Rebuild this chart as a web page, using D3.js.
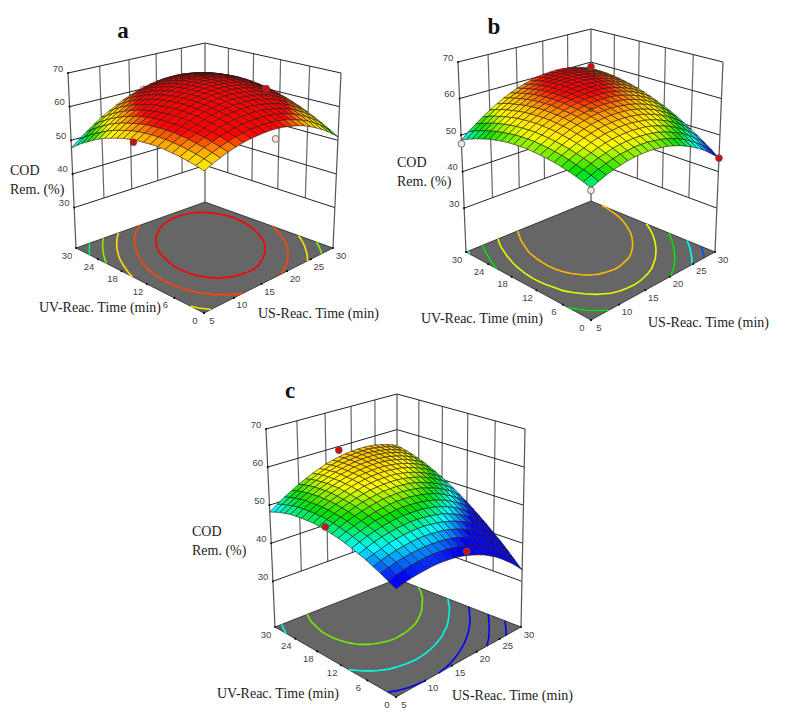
<!DOCTYPE html>
<html>
<head>
<meta charset="utf-8">
<script src="https://cdn.jsdelivr.net/npm/d3@7"></script>
<style>
  body { margin: 0; background: #fff; }
  .tick-label { font: 9.5px "Liberation Sans", sans-serif; fill: #444; text-anchor: middle; dominant-baseline: central; }
  .axis-title { font: 14px "Liberation Serif", serif; fill: #222; }
  .panel-letter { font: bold 23px "Liberation Serif", serif; fill: #111; text-anchor: middle; }
</style>
</head>
<body>
<svg id="chart" width="789" height="727"></svg>
<script>
const usTicks = [5, 10, 15, 20, 25, 30];
const uvTicks = [0, 6, 12, 18, 24, 30];
const codTicks = [30, 40, 50, 60, 70];

// Surface heights, rows go UV 0 -> 30, columns US 5 -> 30
const surfaceA = [
  [55.9,56.9,57.8,58.6,59.2,59.7,60.0,60.2,60.3,60.3,60.1,59.8,59.3,58.8,58.1,57.2,56.2,55.1,53.9,52.5,51.0],
  [56.5,57.5,58.4,59.2,59.9,60.4,60.8,61.1,61.2,61.2,61.1,60.8,60.4,59.9,59.2,58.4,57.5,56.4,55.2,53.9,52.4],
  [56.9,58.0,59.0,59.8,60.6,61.1,61.6,61.9,62.0,62.1,62.0,61.8,61.4,60.9,60.3,59.5,58.6,57.6,56.4,55.2,53.7],
  [57.3,58.4,59.4,60.3,61.1,61.7,62.2,62.5,62.7,62.8,62.8,62.6,62.2,61.8,61.2,60.5,59.7,58.7,57.6,56.3,54.9],
  [57.5,58.7,59.8,60.7,61.5,62.2,62.7,63.1,63.3,63.5,63.4,63.3,63.0,62.6,62.1,61.4,60.6,59.7,58.6,57.4,56.0],
  [57.7,58.9,60.0,61.0,61.8,62.5,63.1,63.5,63.8,64.0,64.0,63.9,63.7,63.3,62.8,62.2,61.4,60.5,59.5,58.3,57.0],
  [57.8,59.0,60.2,61.2,62.1,62.8,63.4,63.9,64.2,64.4,64.5,64.4,64.2,63.9,63.5,62.9,62.2,61.3,60.3,59.2,57.9],
  [57.7,59.0,60.2,61.2,62.2,62.9,63.6,64.1,64.5,64.7,64.9,64.9,64.7,64.4,64.0,63.5,62.8,62.0,61.0,59.9,58.7],
  [57.5,58.9,60.1,61.2,62.2,63.0,63.7,64.3,64.7,65.0,65.1,65.2,65.1,64.8,64.5,63.9,63.3,62.5,61.6,60.6,59.4],
  [57.3,58.7,59.9,61.1,62.1,63.0,63.7,64.3,64.8,65.1,65.3,65.4,65.3,65.1,64.8,64.3,63.7,63.0,62.1,61.2,60.0],
  [56.9,58.4,59.7,60.9,61.9,62.8,63.6,64.2,64.7,65.1,65.4,65.5,65.5,65.3,65.0,64.6,64.1,63.4,62.5,61.6,60.5],
  [56.5,58.0,59.3,60.5,61.6,62.5,63.4,64.1,64.6,65.0,65.3,65.5,65.5,65.4,65.1,64.8,64.3,63.6,62.8,61.9,60.9],
  [55.9,57.4,58.8,60.1,61.2,62.2,63.1,63.8,64.4,64.9,65.2,65.4,65.5,65.4,65.2,64.9,64.4,63.8,63.0,62.2,61.2],
  [55.2,56.8,58.2,59.5,60.7,61.8,62.7,63.4,64.1,64.6,64.9,65.2,65.3,65.3,65.1,64.8,64.4,63.8,63.1,62.3,61.4],
  [54.5,56.1,57.6,58.9,60.1,61.2,62.2,63.0,63.6,64.2,64.6,64.9,65.0,65.1,64.9,64.7,64.3,63.8,63.1,62.4,61.5],
  [53.6,55.3,56.8,58.2,59.4,60.5,61.5,62.4,63.1,63.7,64.2,64.5,64.7,64.7,64.7,64.4,64.1,63.6,63.0,62.3,61.4],
  [52.6,54.3,55.9,57.3,58.6,59.8,60.8,61.7,62.5,63.1,63.6,64.0,64.2,64.3,64.3,64.1,63.8,63.4,62.8,62.1,61.3],
  [51.5,53.3,54.9,56.4,57.7,58.9,60.0,60.9,61.7,62.4,63.0,63.4,63.6,63.8,63.8,63.7,63.4,63.0,62.5,61.9,61.1],
  [50.4,52.2,53.8,55.3,56.7,58.0,59.1,60.1,60.9,61.6,62.2,62.7,63.0,63.2,63.2,63.1,62.9,62.6,62.1,61.5,60.7],
  [49.1,50.9,52.6,54.2,55.6,56.9,58.0,59.1,60.0,60.7,61.3,61.8,62.2,62.4,62.5,62.5,62.3,62.0,61.6,61.0,60.3],
  [47.7,49.6,51.3,52.9,54.4,55.7,56.9,58.0,58.9,59.7,60.4,60.9,61.3,61.6,61.7,61.7,61.6,61.4,60.9,60.4,59.8]
];
const surfaceB = [
  [50.4,51.2,52.0,52.6,53.0,53.4,53.6,53.7,53.7,53.5,53.2,52.9,52.3,51.7,50.9,50.0,49.0,47.9,46.6,45.2,43.7],
  [51.1,52.0,52.7,53.4,53.9,54.3,54.5,54.7,54.7,54.6,54.3,54.0,53.5,52.9,52.2,51.3,50.3,49.2,48.0,46.7,45.2],
  [51.7,52.6,53.4,54.1,54.6,55.1,55.4,55.5,55.6,55.5,55.3,55.0,54.6,54.0,53.3,52.5,51.6,50.5,49.3,48.0,46.6],
  [52.2,53.1,54.0,54.7,55.3,55.8,56.1,56.3,56.4,56.4,56.2,56.0,55.6,55.0,54.4,53.6,52.7,51.7,50.6,49.3,47.9],
  [52.6,53.6,54.5,55.2,55.9,56.4,56.8,57.0,57.2,57.2,57.1,56.8,56.5,56.0,55.4,54.6,53.8,52.8,51.7,50.5,49.1],
  [53.0,54.0,54.9,55.7,56.4,56.9,57.4,57.7,57.8,57.9,57.8,57.6,57.3,56.9,56.3,55.6,54.8,53.9,52.8,51.6,50.3],
  [53.2,54.3,55.3,56.1,56.8,57.4,57.9,58.2,58.4,58.5,58.5,58.3,58.1,57.7,57.1,56.5,55.7,54.8,53.8,52.7,51.4],
  [53.4,54.5,55.5,56.4,57.2,57.8,58.3,58.7,59.0,59.1,59.1,59.0,58.7,58.4,57.9,57.3,56.6,55.7,54.7,53.6,52.4],
  [53.5,54.7,55.7,56.7,57.5,58.1,58.7,59.1,59.4,59.6,59.6,59.5,59.3,59.0,58.6,58.0,57.3,56.5,55.6,54.5,53.3],
  [53.6,54.8,55.8,56.8,57.6,58.4,58.9,59.4,59.7,60.0,60.0,60.0,59.9,59.6,59.2,58.6,58.0,57.2,56.3,55.3,54.1],
  [53.5,54.8,55.9,56.9,57.8,58.5,59.1,59.6,60.0,60.3,60.4,60.4,60.3,60.1,59.7,59.2,58.6,57.9,57.0,56.0,54.9],
  [53.4,54.7,55.8,56.9,57.8,58.6,59.2,59.8,60.2,60.5,60.7,60.7,60.7,60.5,60.1,59.7,59.1,58.4,57.6,56.6,55.6],
  [53.2,54.5,55.7,56.8,57.7,58.6,59.3,59.9,60.3,60.7,60.9,61.0,60.9,60.8,60.5,60.1,59.6,58.9,58.1,57.2,56.2],
  [52.9,54.2,55.5,56.6,57.6,58.5,59.2,59.9,60.4,60.7,61.0,61.1,61.1,61.0,60.8,60.4,59.9,59.3,58.6,57.7,56.7],
  [52.5,53.9,55.2,56.4,57.4,58.3,59.1,59.8,60.3,60.7,61.0,61.2,61.2,61.2,61.0,60.6,60.2,59.6,58.9,58.1,57.1],
  [52.1,53.5,54.8,56.0,57.1,58.1,58.9,59.6,60.2,60.6,61.0,61.2,61.3,61.2,61.1,60.8,60.4,59.9,59.2,58.4,57.5],
  [51.5,53.0,54.4,55.6,56.7,57.7,58.6,59.4,60.0,60.5,60.9,61.1,61.2,61.2,61.1,60.9,60.5,60.0,59.4,58.6,57.8],
  [50.9,52.4,53.9,55.1,56.3,57.3,58.2,59.0,59.7,60.2,60.7,60.9,61.1,61.2,61.1,60.9,60.5,60.1,59.5,58.8,58.0],
  [50.2,51.8,53.2,54.6,55.8,56.9,57.8,58.6,59.3,59.9,60.4,60.7,60.9,61.0,60.9,60.8,60.5,60.1,59.5,58.9,58.1],
  [49.5,51.1,52.6,53.9,55.2,56.3,57.3,58.1,58.9,59.5,60.0,60.4,60.6,60.7,60.7,60.6,60.4,60.0,59.5,58.9,58.1],
  [48.6,50.3,51.8,53.2,54.5,55.6,56.7,57.6,58.4,59.0,59.6,60.0,60.3,60.4,60.5,60.4,60.2,59.8,59.4,58.8,58.1]
];
const surfaceC = [
  [44.4,44.9,45.2,45.4,45.5,45.6,45.5,45.3,45.0,44.6,44.1,43.4,42.7,41.9,40.9,39.9,38.7,37.4,36.1,34.6,33.0],
  [45.4,45.9,46.3,46.6,46.7,46.8,46.8,46.6,46.4,46.0,45.5,44.9,44.3,43.5,42.6,41.6,40.5,39.2,37.9,36.5,34.9],
  [46.3,46.9,47.3,47.6,47.8,47.9,47.9,47.8,47.6,47.3,46.9,46.4,45.7,45.0,44.1,43.2,42.1,40.9,39.7,38.3,36.8],
  [47.1,47.7,48.2,48.6,48.8,49.0,49.1,49.0,48.8,48.6,48.2,47.7,47.1,46.4,45.6,44.7,43.7,42.6,41.3,40.0,38.6],
  [47.9,48.5,49.0,49.5,49.8,50.0,50.1,50.1,50.0,49.7,49.4,49.0,48.4,47.8,47.0,46.2,45.2,44.1,42.9,41.6,40.2],
  [48.5,49.2,49.8,50.3,50.6,50.9,51.0,51.1,51.0,50.8,50.5,50.1,49.7,49.0,48.3,47.5,46.6,45.6,44.4,43.2,41.8],
  [49.1,49.8,50.5,51.0,51.4,51.7,51.9,52.0,51.9,51.8,51.6,51.2,50.8,50.2,49.6,48.8,47.9,46.9,45.8,44.6,43.3],
  [49.6,50.4,51.0,51.6,52.1,52.4,52.6,52.8,52.8,52.7,52.5,52.2,51.8,51.3,50.7,50.0,49.1,48.2,47.2,46.0,44.7],
  [50.0,50.8,51.5,52.1,52.6,53.0,53.3,53.5,53.6,53.5,53.4,53.1,52.8,52.3,51.8,51.1,50.3,49.4,48.4,47.3,46.1],
  [50.3,51.2,52.0,52.6,53.1,53.6,53.9,54.2,54.3,54.3,54.2,54.0,53.7,53.3,52.7,52.1,51.4,50.5,49.6,48.5,47.3],
  [50.6,51.5,52.3,53.0,53.6,54.1,54.4,54.7,54.9,54.9,54.9,54.7,54.5,54.1,53.6,53.0,52.3,51.5,50.6,49.6,48.5],
  [50.7,51.7,52.5,53.3,53.9,54.4,54.9,55.2,55.4,55.5,55.5,55.4,55.2,54.8,54.4,53.9,53.2,52.5,51.6,50.7,49.6],
  [50.8,51.8,52.7,53.5,54.1,54.7,55.2,55.6,55.8,56.0,56.0,56.0,55.8,55.5,55.1,54.6,54.0,53.3,52.5,51.6,50.6],
  [50.7,51.8,52.8,53.6,54.3,54.9,55.5,55.9,56.2,56.4,56.5,56.5,56.3,56.1,55.8,55.3,54.8,54.1,53.4,52.5,51.5],
  [50.6,51.7,52.7,53.6,54.4,55.1,55.6,56.1,56.5,56.7,56.8,56.9,56.8,56.6,56.3,55.9,55.4,54.8,54.1,53.3,52.3],
  [50.4,51.6,52.6,53.6,54.4,55.1,55.7,56.2,56.6,56.9,57.1,57.2,57.2,57.0,56.8,56.4,56.0,55.4,54.7,54.0,53.1],
  [50.2,51.4,52.5,53.4,54.3,55.1,55.7,56.3,56.7,57.1,57.3,57.4,57.4,57.3,57.1,56.8,56.4,55.9,55.3,54.6,53.7],
  [49.8,51.1,52.2,53.2,54.1,54.9,55.6,56.3,56.7,57.1,57.4,57.6,57.6,57.6,57.4,57.2,56.8,56.4,55.8,55.1,54.3],
  [49.4,50.6,51.8,52.9,53.9,54.7,55.5,56.1,56.7,57.1,57.4,57.6,57.8,57.8,57.6,57.4,57.1,56.7,56.2,55.5,54.8],
  [48.8,50.2,51.4,52.5,53.5,54.4,55.2,55.9,56.5,57.0,57.4,57.6,57.8,57.8,57.8,57.6,57.3,57.0,56.5,55.9,55.2],
  [48.2,49.6,50.9,52.0,53.1,54.0,54.9,55.6,56.3,56.8,57.2,57.5,57.7,57.8,57.8,57.7,57.5,57.1,56.7,56.2,55.5]
];

const contourLevelsA = [62.6, 59.8, 56.8, 54, 51];
const contourLevelsB = [58.1, 55.2, 52.3, 49.2, 46.6];
const contourLevelsC = [53.7, 49.5, 45.5, 41.2, 37.2];

// design points as [US, UV, COD]
const pointsAboveA = [[30, 15, 60], [5, 14.2, 56.5]];
const pointsBelowA = [[16.9, 0, 57.4]];
const pointsHiddenA = [[17.5, 30, 59.8]];
const pointsAboveB = [[30, 30, 58.6], [30, 0, 43.7]];
const pointsBelowB = [[5, 30, 47.6], [5, 0, 49.8]];
const pointsOnB = [[17.5, 15, 57]];
const pointsAboveC = [[17.5, 30, 59], [5, 15, 51.3], [17.5, 0, 45.1]];

const colorStops = [45.5, 49.2, 52.3, 55.5, 57.8, 59.2, 60.6];
const colorRange = ['#0000ff', '#00ffff', '#00e000', '#ffff00', '#ffc800', '#ff7a00', '#ff0000'];

const panels = [
  {
    letter: 'a', letterPos: [123, 38], surface: surfaceA, levels: contourLevelsA,
    above: pointsAboveA, below: pointsBelowA, hidden: pointsHiddenA, onTop: [],
    floor: {front: [204, 313], right: [333, 248], back: [205, 202], left: [76, 248]},
    top: {front: [204, 118], right: [341, 73], back: [205, 43], left: [68, 73]},
    uvTitle: [39, 312], usTitle: [258, 318], codTitle: [10, 175]
  },
  {
    letter: 'b', letterPos: [494, 34], surface: surfaceB, levels: contourLevelsB,
    above: pointsAboveB, below: pointsBelowB, hidden: [], onTop: pointsOnB,
    floor: {front: [591, 320], right: [715, 252], back: [591, 201], left: [466, 252]},
    top: {front: [591, 108], right: [723, 62], back: [591, 29], left: [458, 62]},
    uvTitle: [421, 323], usTitle: [648, 327], codTitle: [397, 167]
  },
  {
    letter: 'c', letterPos: [290, 398], surface: surfaceC, levels: contourLevelsC,
    above: pointsAboveC, below: [], hidden: [], onTop: [],
    floor: {front: [396, 697], right: [521, 627], back: [397, 579], left: [275, 627]},
    top: {front: [396, 484], right: [525, 429], back: [397, 394], left: [266, 429]},
    uvTitle: [217, 698], usTitle: [452, 700], codTitle: [192, 536]
  }
];

const svg = d3.select('#chart');

const usScale = d3.scaleLinear().domain([5, 30]).range([0, 1]);
const uvScale = d3.scaleLinear().domain([0, 30]).range([0, 1]);
// floor of the box sits below the 30 level
const codScale = d3.scaleLinear().domain([18, 70]).range([0, 1]);
const colorScale = d3.scaleLinear().domain(colorStops).range(colorRange).clamp(true);

// maps the unit square on to a four sided shape (perspective floor / lid)
function quadMap(q) {
  const [x0, y0] = q.front, [x1, y1] = q.right, [x2, y2] = q.back, [x3, y3] = q.left;
  const dx1 = x1 - x2, dx2 = x3 - x2, sx = x0 - x1 + x2 - x3;
  const dy1 = y1 - y2, dy2 = y3 - y2, sy = y0 - y1 + y2 - y3;
  const det = dx1 * dy2 - dx2 * dy1;
  const g = (sx * dy2 - dx2 * sy) / det;
  const h = (dx1 * sy - sx * dy1) / det;
  const a = x1 - x0 + g * x1, b = x3 - x0 + h * x3;
  const d = y1 - y0 + g * y1, e = y3 - y0 + h * y3;
  return (u, v) => {
    const w = g * u + h * v + 1;
    return [(a * u + b * v + x0) / w, (d * u + e * v + y0) / w];
  };
}

function drawPanel(p) {
  const g = svg.append('g');
  const floorAt = quadMap(p.floor);
  const topAt = quadMap(p.top);

  const project = (us, uv, cod) => {
    const u = usScale(us), v = uvScale(uv), c = codScale(cod);
    const f = floorAt(u, v), t = topAt(u, v);
    return [f[0] + (t[0] - f[0]) * c, f[1] + (t[1] - f[1]) * c];
  };
  const line = d3.line();
  const path = (pts, stroke, width, fill) => g.append('path')
      .attr('d', line(pts))
      .attr('fill', fill || 'none')
      .attr('stroke', stroke)
      .attr('stroke-width', width);

  // walls
  usTicks.slice(1, -1).forEach(us => {
    path([project(us, 30, 30), project(us, 30, 70)], '#666', 1.2);
  });
  uvTicks.slice(1, -1).forEach(uv => {
    path([project(30, uv, 30), project(30, uv, 70)], '#666', 1.2);
  });
  codTicks.forEach(cod => {
    path([project(5, 30, cod), project(30, 30, cod), project(30, 0, cod)], '#222', 1);
  });
  path([project(5, 30, 18), project(5, 30, 70)], '#555', 1.2);
  path([project(30, 30, 18), project(30, 30, 70)], '#555', 1.2);
  path([project(30, 0, 18), project(30, 0, 70)], '#555', 1.2);

  // floor
  path([project(5, 0, 18), project(30, 0, 18), project(30, 30, 18), project(5, 30, 18), project(5, 0, 18)], '#222', 0.8, '#666');

  // contours on the floor, drawn from the same grid
  const ny = p.surface.length, nx = p.surface[0].length;
  const contourGen = d3.contours().size([nx, ny]).thresholds(p.levels);
  const toFloor = c => project(
      usScale.invert((c[0] - 0.5) / (nx - 1)),
      uvScale.invert((c[1] - 0.5) / (ny - 1)),
      18);
  const inside = c => c[0] >= 0.5 && c[0] <= nx - 0.5 && c[1] >= 0.5 && c[1] <= ny - 0.5;
  contourGen(p.surface.flat()).forEach(geo => {
    const color = colorScale(geo.value);
    geo.coordinates.forEach(poly => poly.forEach(ring => {
      const start = ring.findIndex(c => !inside(c));
      if (start < 0) {
        path(ring.map(toFloor), color, 1.6);
        return;
      }
      let run = [];
      for (let k = 0; k <= ring.length; k++) {
        const c = ring[(start + k) % ring.length];
        if (inside(c)) {
          run.push(c);
        } else {
          if (run.length > 1) path(run.map(toFloor), color, 1.6);
          run = [];
        }
      }
    }));
  });

  // z ticks
  codTicks.forEach(cod => {
    const [x, y] = project(5, 30, cod);
    g.append('circle').attr('cx', x).attr('cy', y).attr('r', 1.1).attr('fill', '#111');
    g.append('text').attr('class', 'tick-label')
        .attr('x', x - 10).attr('y', y - 5).text(cod);
  });

  // floor ticks and labels
  uvTicks.forEach(uv => {
    const [x, y] = project(5, uv, 18);
    g.append('circle').attr('cx', x).attr('cy', y).attr('r', 1.1).attr('fill', '#111');
    g.append('text').attr('class', 'tick-label')
        .attr('x', x - 9).attr('y', y + 7).text(uv);
  });
  usTicks.forEach(us => {
    const [x, y] = project(us, 0, 18);
    g.append('circle').attr('cx', x).attr('cy', y).attr('r', 1.1).attr('fill', '#111');
    g.append('text').attr('class', 'tick-label')
        .attr('x', x + 8).attr('y', y + 7).text(us);
  });

  // design points
  const dots = (data, fill, r, stroke) => g.append('g').selectAll('circle')
      .data(data)
      .join('circle')
      .attr('cx', d => project(d[0], d[1], d[2])[0])
      .attr('cy', d => project(d[0], d[1], d[2])[1])
      .attr('r', r)
      .attr('fill', fill)
      .attr('stroke', stroke)
      .attr('stroke-width', 0.8);
  dots(p.hidden, '#fbe3dc', 3.4, '#6f8fc0');

  // surface cells, far ones first
  const usStep = i => usTicks[0] + i * (usTicks[5] - usTicks[0]) / (nx - 1);
  const uvStep = j => uvTicks[0] + j * (uvTicks[5] - uvTicks[0]) / (ny - 1);
  const cells = [];
  for (let j = 0; j < ny - 1; j++) {
    for (let i = 0; i < nx - 1; i++) {
      const corners = [[i, j], [i + 1, j], [i + 1, j + 1], [i, j + 1]];
      cells.push({
        order: i + j,
        pts: corners.map(c => project(usStep(c[0]), uvStep(c[1]), p.surface[c[1]][c[0]])),
        mean: d3.mean(corners, c => p.surface[c[1]][c[0]])
      });
    }
  }
  g.append('g').selectAll('path')
      .data(d3.sort(cells, d => -d.order))
      .join('path')
      .attr('d', d => line(d.pts) + 'Z')
      .attr('fill', d => colorScale(d.mean))
      .attr('stroke', '#2a1a1a')
      .attr('stroke-width', 0.6)
      .attr('stroke-linejoin', 'round');

  dots(p.below, '#fbe3dc', 3.4, '#555');
  dots(p.above, '#d50b0b', 3.4, '#555');
  dots(p.onTop, 'none', 2, '#4a2a10');

  // titles
  g.append('text').attr('class', 'axis-title')
      .attr('x', p.uvTitle[0]).attr('y', p.uvTitle[1]).text('UV-Reac. Time (min)');
  g.append('text').attr('class', 'axis-title')
      .attr('x', p.usTitle[0]).attr('y', p.usTitle[1]).text('US-Reac. Time (min)');
  g.append('text').attr('class', 'axis-title')
      .attr('x', p.codTitle[0]).attr('y', p.codTitle[1]).text('COD');
  g.append('text').attr('class', 'axis-title')
      .attr('x', p.codTitle[0]).attr('y', p.codTitle[1] + 19).text('Rem. (%)');
  g.append('text').attr('class', 'panel-letter')
      .attr('x', p.letterPos[0]).attr('y', p.letterPos[1]).text(p.letter);
}

panels.forEach(drawPanel);
</script>
</body>
</html>
